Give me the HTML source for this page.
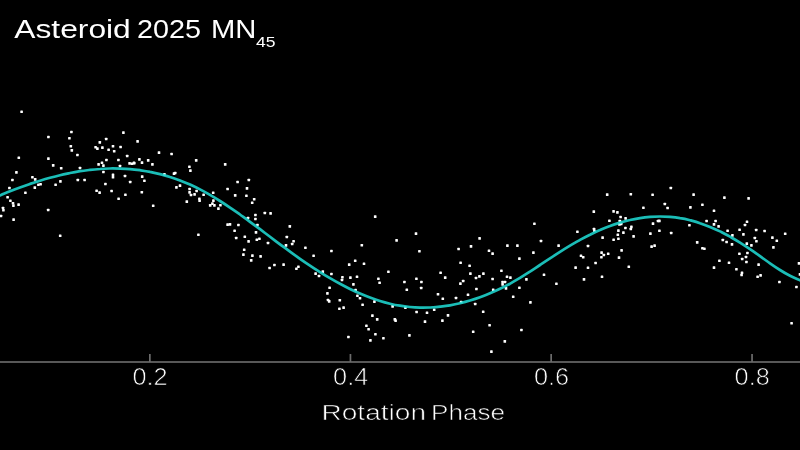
<!DOCTYPE html>
<html><head><meta charset="utf-8"><title>Asteroid 2025 MN45</title>
<style>
html,body{margin:0;padding:0;background:#000;}
body{width:800px;height:450px;overflow:hidden;font-family:"Liberation Sans",sans-serif;}
svg{display:block}
text{font-family:"Liberation Sans",sans-serif;fill:#fff}
</style></head><body>
<svg width="800" height="450" viewBox="0 0 800 450">
<rect width="800" height="450" fill="#000"/>
<text x="14.3" y="37.7" font-size="25.4" textLength="116.5" lengthAdjust="spacingAndGlyphs">Asteroid</text>
<text x="137" y="37.7" font-size="25.4" textLength="64" lengthAdjust="spacingAndGlyphs">2025</text>
<text x="211" y="37.7" font-size="25.4" textLength="45.4" lengthAdjust="spacingAndGlyphs">MN</text>
<text x="256" y="46.9" font-size="14.2" textLength="19.5" lengthAdjust="spacingAndGlyphs">45</text>
<g fill="#fff" shape-rendering="auto"><rect x="20.3" y="110.5" width="2.6" height="2.6" rx="0.5"/><rect x="47.1" y="135.7" width="2.6" height="2.6" rx="0.5"/><rect x="70.1" y="130.7" width="2.6" height="2.6" rx="0.5"/><rect x="68.1" y="136.9" width="2.6" height="2.6" rx="0.5"/><rect x="122.1" y="131.3" width="2.6" height="2.6" rx="0.5"/><rect x="104.9" y="137.7" width="2.6" height="2.6" rx="0.5"/><rect x="136.3" y="140.1" width="2.6" height="2.6" rx="0.5"/><rect x="98.5" y="141.1" width="2.6" height="2.6" rx="0.5"/><rect x="69.5" y="144.9" width="2.6" height="2.6" rx="0.5"/><rect x="94.3" y="145.9" width="2.6" height="2.6" rx="0.5"/><rect x="96.1" y="147.3" width="2.6" height="2.6" rx="0.5"/><rect x="101.1" y="146.3" width="2.6" height="2.6" rx="0.5"/><rect x="111.7" y="144.9" width="2.6" height="2.6" rx="0.5"/><rect x="119.3" y="145.7" width="2.6" height="2.6" rx="0.5"/><rect x="107.3" y="148.5" width="2.6" height="2.6" rx="0.5"/><rect x="70.5" y="149.1" width="2.6" height="2.6" rx="0.5"/><rect x="112.9" y="149.9" width="2.6" height="2.6" rx="0.5"/><rect x="157.7" y="151.3" width="2.6" height="2.6" rx="0.5"/><rect x="76.1" y="153.7" width="2.6" height="2.6" rx="0.5"/><rect x="125.9" y="154.7" width="2.6" height="2.6" rx="0.5"/><rect x="17.5" y="156.5" width="2.6" height="2.6" rx="0.5"/><rect x="47.1" y="157.3" width="2.6" height="2.6" rx="0.5"/><rect x="105.1" y="158.7" width="2.6" height="2.6" rx="0.5"/><rect x="117.1" y="158.7" width="2.6" height="2.6" rx="0.5"/><rect x="138.1" y="158.1" width="2.6" height="2.6" rx="0.5"/><rect x="146.9" y="159.1" width="2.6" height="2.6" rx="0.5"/><rect x="100.7" y="161.5" width="2.6" height="2.6" rx="0.5"/><rect x="97.3" y="163.1" width="2.6" height="2.6" rx="0.5"/><rect x="102.1" y="164.3" width="2.6" height="2.6" rx="0.5"/><rect x="118.7" y="164.7" width="2.6" height="2.6" rx="0.5"/><rect x="128.3" y="162.1" width="2.6" height="2.6" rx="0.5"/><rect x="130.7" y="162.5" width="2.6" height="2.6" rx="0.5"/><rect x="132.9" y="161.9" width="2.6" height="2.6" rx="0.5"/><rect x="140.7" y="161.3" width="2.6" height="2.6" rx="0.5"/><rect x="151.1" y="163.1" width="2.6" height="2.6" rx="0.5"/><rect x="51.9" y="164.1" width="2.6" height="2.6" rx="0.5"/><rect x="59.9" y="166.9" width="2.6" height="2.6" rx="0.5"/><rect x="78.7" y="166.7" width="2.6" height="2.6" rx="0.5"/><rect x="15.1" y="171.1" width="2.6" height="2.6" rx="0.5"/><rect x="102.1" y="170.7" width="2.6" height="2.6" rx="0.5"/><rect x="111.7" y="173.5" width="2.6" height="2.6" rx="0.5"/><rect x="111.7" y="175.9" width="2.6" height="2.6" rx="0.5"/><rect x="123.7" y="174.7" width="2.6" height="2.6" rx="0.5"/><rect x="140.9" y="175.3" width="2.6" height="2.6" rx="0.5"/><rect x="31.1" y="175.9" width="2.6" height="2.6" rx="0.5"/><rect x="33.9" y="178.1" width="2.6" height="2.6" rx="0.5"/><rect x="11.1" y="178.7" width="2.6" height="2.6" rx="0.5"/><rect x="59.1" y="180.1" width="2.6" height="2.6" rx="0.5"/><rect x="76.5" y="178.7" width="2.6" height="2.6" rx="0.5"/><rect x="83.3" y="178.7" width="2.6" height="2.6" rx="0.5"/><rect x="143.1" y="179.5" width="2.6" height="2.6" rx="0.5"/><rect x="128.9" y="180.7" width="2.6" height="2.6" rx="0.5"/><rect x="104.1" y="182.7" width="2.6" height="2.6" rx="0.5"/><rect x="54.3" y="183.5" width="2.6" height="2.6" rx="0.5"/><rect x="39.3" y="182.9" width="2.6" height="2.6" rx="0.5"/><rect x="37.1" y="183.5" width="2.6" height="2.6" rx="0.5"/><rect x="33.5" y="186.3" width="2.6" height="2.6" rx="0.5"/><rect x="8.1" y="186.7" width="2.6" height="2.6" rx="0.5"/><rect x="170.3" y="152.7" width="2.6" height="2.6" rx="0.5"/><rect x="194.9" y="159.1" width="2.6" height="2.6" rx="0.5"/><rect x="223.9" y="163.1" width="2.6" height="2.6" rx="0.5"/><rect x="188.1" y="165.5" width="2.6" height="2.6" rx="0.5"/><rect x="189.1" y="169.3" width="2.6" height="2.6" rx="0.5"/><rect x="172.7" y="172.3" width="2.6" height="2.6" rx="0.5"/><rect x="163.1" y="173.1" width="2.6" height="2.6" rx="0.5"/><rect x="247.5" y="178.7" width="2.6" height="2.6" rx="0.5"/><rect x="236.3" y="180.7" width="2.6" height="2.6" rx="0.5"/><rect x="178.7" y="184.3" width="2.6" height="2.6" rx="0.5"/><rect x="175.1" y="186.1" width="2.6" height="2.6" rx="0.5"/><rect x="188.3" y="187.7" width="2.6" height="2.6" rx="0.5"/><rect x="226.3" y="187.7" width="2.6" height="2.6" rx="0.5"/><rect x="245.7" y="187.1" width="2.6" height="2.6" rx="0.5"/><rect x="24.1" y="191.5" width="2.6" height="2.6" rx="0.5"/><rect x="6.3" y="195.9" width="2.6" height="2.6" rx="0.5"/><rect x="9.1" y="199.5" width="2.6" height="2.6" rx="0.5"/><rect x="11.7" y="201.9" width="2.6" height="2.6" rx="0.5"/><rect x="12.1" y="204.3" width="2.6" height="2.6" rx="0.5"/><rect x="17.3" y="203.3" width="2.6" height="2.6" rx="0.5"/><rect x="1.7" y="206.7" width="2.6" height="2.6" rx="0.5"/><rect x="2.1" y="208.9" width="2.6" height="2.6" rx="0.5"/><rect x="-0.3" y="214.7" width="2.6" height="2.6" rx="0.5"/><rect x="12.3" y="218.3" width="2.6" height="2.6" rx="0.5"/><rect x="46.9" y="208.7" width="2.6" height="2.6" rx="0.5"/><rect x="58.9" y="234.5" width="2.6" height="2.6" rx="0.5"/><rect x="95.3" y="189.5" width="2.6" height="2.6" rx="0.5"/><rect x="98.3" y="191.3" width="2.6" height="2.6" rx="0.5"/><rect x="110.3" y="189.7" width="2.6" height="2.6" rx="0.5"/><rect x="124.1" y="193.5" width="2.6" height="2.6" rx="0.5"/><rect x="117.3" y="197.5" width="2.6" height="2.6" rx="0.5"/><rect x="140.5" y="190.9" width="2.6" height="2.6" rx="0.5"/><rect x="151.9" y="204.5" width="2.6" height="2.6" rx="0.5"/><rect x="188.3" y="191.1" width="2.6" height="2.6" rx="0.5"/><rect x="189.7" y="193.7" width="2.6" height="2.6" rx="0.5"/><rect x="193.3" y="193.1" width="2.6" height="2.6" rx="0.5"/><rect x="195.3" y="189.7" width="2.6" height="2.6" rx="0.5"/><rect x="202.3" y="193.5" width="2.6" height="2.6" rx="0.5"/><rect x="211.9" y="191.5" width="2.6" height="2.6" rx="0.5"/><rect x="185.5" y="200.3" width="2.6" height="2.6" rx="0.5"/><rect x="198.1" y="197.5" width="2.6" height="2.6" rx="0.5"/><rect x="198.3" y="199.5" width="2.6" height="2.6" rx="0.5"/><rect x="212.1" y="199.3" width="2.6" height="2.6" rx="0.5"/><rect x="211.1" y="202.3" width="2.6" height="2.6" rx="0.5"/><rect x="208.9" y="204.1" width="2.6" height="2.6" rx="0.5"/><rect x="213.1" y="204.1" width="2.6" height="2.6" rx="0.5"/><rect x="219.1" y="203.9" width="2.6" height="2.6" rx="0.5"/><rect x="217.1" y="207.3" width="2.6" height="2.6" rx="0.5"/><rect x="233.9" y="194.1" width="2.6" height="2.6" rx="0.5"/><rect x="245.1" y="194.5" width="2.6" height="2.6" rx="0.5"/><rect x="252.9" y="197.9" width="2.6" height="2.6" rx="0.5"/><rect x="250.9" y="201.5" width="2.6" height="2.6" rx="0.5"/><rect x="263.5" y="211.7" width="2.6" height="2.6" rx="0.5"/><rect x="269.3" y="212.1" width="2.6" height="2.6" rx="0.5"/><rect x="254.1" y="213.7" width="2.6" height="2.6" rx="0.5"/><rect x="246.7" y="216.7" width="2.6" height="2.6" rx="0.5"/><rect x="254.1" y="217.7" width="2.6" height="2.6" rx="0.5"/><rect x="226.3" y="223.3" width="2.6" height="2.6" rx="0.5"/><rect x="228.7" y="223.1" width="2.6" height="2.6" rx="0.5"/><rect x="237.1" y="223.7" width="2.6" height="2.6" rx="0.5"/><rect x="256.1" y="223.7" width="2.6" height="2.6" rx="0.5"/><rect x="288.5" y="225.1" width="2.6" height="2.6" rx="0.5"/><rect x="233.3" y="229.5" width="2.6" height="2.6" rx="0.5"/><rect x="254.7" y="231.1" width="2.6" height="2.6" rx="0.5"/><rect x="197.1" y="233.5" width="2.6" height="2.6" rx="0.5"/><rect x="243.5" y="235.5" width="2.6" height="2.6" rx="0.5"/><rect x="234.9" y="236.7" width="2.6" height="2.6" rx="0.5"/><rect x="285.5" y="235.7" width="2.6" height="2.6" rx="0.5"/><rect x="258.1" y="237.5" width="2.6" height="2.6" rx="0.5"/><rect x="255.5" y="238.5" width="2.6" height="2.6" rx="0.5"/><rect x="247.3" y="240.1" width="2.6" height="2.6" rx="0.5"/><rect x="292.3" y="239.9" width="2.6" height="2.6" rx="0.5"/><rect x="266.7" y="241.7" width="2.6" height="2.6" rx="0.5"/><rect x="290.9" y="242.7" width="2.6" height="2.6" rx="0.5"/><rect x="284.7" y="244.1" width="2.6" height="2.6" rx="0.5"/><rect x="304.1" y="246.5" width="2.6" height="2.6" rx="0.5"/><rect x="242.9" y="248.5" width="2.6" height="2.6" rx="0.5"/><rect x="242.1" y="253.3" width="2.6" height="2.6" rx="0.5"/><rect x="251.1" y="254.3" width="2.6" height="2.6" rx="0.5"/><rect x="259.3" y="255.1" width="2.6" height="2.6" rx="0.5"/><rect x="312.3" y="254.5" width="2.6" height="2.6" rx="0.5"/><rect x="249.9" y="259.1" width="2.6" height="2.6" rx="0.5"/><rect x="273.1" y="263.7" width="2.6" height="2.6" rx="0.5"/><rect x="282.3" y="263.3" width="2.6" height="2.6" rx="0.5"/><rect x="268.3" y="266.7" width="2.6" height="2.6" rx="0.5"/><rect x="297.1" y="265.5" width="2.6" height="2.6" rx="0.5"/><rect x="295.1" y="267.5" width="2.6" height="2.6" rx="0.5"/><rect x="314.3" y="272.3" width="2.6" height="2.6" rx="0.5"/><rect x="317.7" y="274.7" width="2.6" height="2.6" rx="0.5"/><rect x="373.9" y="215.3" width="2.6" height="2.6" rx="0.5"/><rect x="414.7" y="232.3" width="2.6" height="2.6" rx="0.5"/><rect x="395.3" y="239.1" width="2.6" height="2.6" rx="0.5"/><rect x="360.5" y="243.9" width="2.6" height="2.6" rx="0.5"/><rect x="330.1" y="249.7" width="2.6" height="2.6" rx="0.5"/><rect x="418.1" y="249.9" width="2.6" height="2.6" rx="0.5"/><rect x="457.3" y="247.7" width="2.6" height="2.6" rx="0.5"/><rect x="469.7" y="245.1" width="2.6" height="2.6" rx="0.5"/><rect x="478.3" y="237.1" width="2.6" height="2.6" rx="0.5"/><rect x="353.9" y="259.5" width="2.6" height="2.6" rx="0.5"/><rect x="347.9" y="263.3" width="2.6" height="2.6" rx="0.5"/><rect x="362.7" y="262.5" width="2.6" height="2.6" rx="0.5"/><rect x="459.3" y="261.5" width="2.6" height="2.6" rx="0.5"/><rect x="468.3" y="264.5" width="2.6" height="2.6" rx="0.5"/><rect x="387.1" y="270.5" width="2.6" height="2.6" rx="0.5"/><rect x="439.3" y="271.5" width="2.6" height="2.6" rx="0.5"/><rect x="469.1" y="272.3" width="2.6" height="2.6" rx="0.5"/><rect x="330.1" y="272.7" width="2.6" height="2.6" rx="0.5"/><rect x="341.1" y="275.9" width="2.6" height="2.6" rx="0.5"/><rect x="349.1" y="276.3" width="2.6" height="2.6" rx="0.5"/><rect x="355.7" y="275.5" width="2.6" height="2.6" rx="0.5"/><rect x="377.1" y="277.5" width="2.6" height="2.6" rx="0.5"/><rect x="415.1" y="277.5" width="2.6" height="2.6" rx="0.5"/><rect x="443.9" y="276.3" width="2.6" height="2.6" rx="0.5"/><rect x="474.7" y="276.7" width="2.6" height="2.6" rx="0.5"/><rect x="478.1" y="275.1" width="2.6" height="2.6" rx="0.5"/><rect x="321.5" y="270.3" width="2.6" height="2.6" rx="0.5"/><rect x="605.9" y="193.3" width="2.6" height="2.6" rx="0.5"/><rect x="629.5" y="192.9" width="2.6" height="2.6" rx="0.5"/><rect x="592.5" y="210.3" width="2.6" height="2.6" rx="0.5"/><rect x="612.3" y="210.1" width="2.6" height="2.6" rx="0.5"/><rect x="616.1" y="211.1" width="2.6" height="2.6" rx="0.5"/><rect x="619.3" y="215.7" width="2.6" height="2.6" rx="0.5"/><rect x="624.3" y="217.1" width="2.6" height="2.6" rx="0.5"/><rect x="608.1" y="219.5" width="2.6" height="2.6" rx="0.5"/><rect x="618.5" y="219.7" width="2.6" height="2.6" rx="0.5"/><rect x="533.1" y="222.5" width="2.6" height="2.6" rx="0.5"/><rect x="618.1" y="223.1" width="2.6" height="2.6" rx="0.5"/><rect x="619.9" y="222.7" width="2.6" height="2.6" rx="0.5"/><rect x="592.7" y="227.7" width="2.6" height="2.6" rx="0.5"/><rect x="593.1" y="229.5" width="2.6" height="2.6" rx="0.5"/><rect x="624.1" y="226.7" width="2.6" height="2.6" rx="0.5"/><rect x="630.1" y="225.5" width="2.6" height="2.6" rx="0.5"/><rect x="629.5" y="227.7" width="2.6" height="2.6" rx="0.5"/><rect x="576.1" y="230.5" width="2.6" height="2.6" rx="0.5"/><rect x="617.1" y="229.3" width="2.6" height="2.6" rx="0.5"/><rect x="622.1" y="231.3" width="2.6" height="2.6" rx="0.5"/><rect x="616.5" y="233.5" width="2.6" height="2.6" rx="0.5"/><rect x="632.3" y="235.1" width="2.6" height="2.6" rx="0.5"/><rect x="601.3" y="236.3" width="2.6" height="2.6" rx="0.5"/><rect x="612.3" y="238.5" width="2.6" height="2.6" rx="0.5"/><rect x="617.1" y="237.5" width="2.6" height="2.6" rx="0.5"/><rect x="539.7" y="239.7" width="2.6" height="2.6" rx="0.5"/><rect x="506.1" y="244.3" width="2.6" height="2.6" rx="0.5"/><rect x="516.1" y="244.3" width="2.6" height="2.6" rx="0.5"/><rect x="557.3" y="244.3" width="2.6" height="2.6" rx="0.5"/><rect x="586.7" y="244.7" width="2.6" height="2.6" rx="0.5"/><rect x="620.3" y="249.1" width="2.6" height="2.6" rx="0.5"/><rect x="487.7" y="249.5" width="2.6" height="2.6" rx="0.5"/><rect x="491.3" y="252.3" width="2.6" height="2.6" rx="0.5"/><rect x="532.1" y="251.3" width="2.6" height="2.6" rx="0.5"/><rect x="600.3" y="251.3" width="2.6" height="2.6" rx="0.5"/><rect x="602.5" y="253.7" width="2.6" height="2.6" rx="0.5"/><rect x="606.9" y="252.5" width="2.6" height="2.6" rx="0.5"/><rect x="579.7" y="254.5" width="2.6" height="2.6" rx="0.5"/><rect x="581.9" y="255.9" width="2.6" height="2.6" rx="0.5"/><rect x="600.1" y="255.9" width="2.6" height="2.6" rx="0.5"/><rect x="617.7" y="256.3" width="2.6" height="2.6" rx="0.5"/><rect x="518.1" y="257.3" width="2.6" height="2.6" rx="0.5"/><rect x="594.3" y="261.7" width="2.6" height="2.6" rx="0.5"/><rect x="574.3" y="266.3" width="2.6" height="2.6" rx="0.5"/><rect x="586.7" y="266.5" width="2.6" height="2.6" rx="0.5"/><rect x="627.5" y="265.5" width="2.6" height="2.6" rx="0.5"/><rect x="500.1" y="269.5" width="2.6" height="2.6" rx="0.5"/><rect x="482.1" y="272.3" width="2.6" height="2.6" rx="0.5"/><rect x="542.7" y="273.5" width="2.6" height="2.6" rx="0.5"/><rect x="600.7" y="275.5" width="2.6" height="2.6" rx="0.5"/><rect x="505.7" y="275.5" width="2.6" height="2.6" rx="0.5"/><rect x="509.1" y="276.3" width="2.6" height="2.6" rx="0.5"/><rect x="491.3" y="277.7" width="2.6" height="2.6" rx="0.5"/><rect x="525.1" y="278.1" width="2.6" height="2.6" rx="0.5"/><rect x="582.7" y="278.1" width="2.6" height="2.6" rx="0.5"/><rect x="651.3" y="193.5" width="2.6" height="2.6" rx="0.5"/><rect x="692.3" y="193.3" width="2.6" height="2.6" rx="0.5"/><rect x="723.1" y="196.3" width="2.6" height="2.6" rx="0.5"/><rect x="747.3" y="197.1" width="2.6" height="2.6" rx="0.5"/><rect x="663.5" y="202.7" width="2.6" height="2.6" rx="0.5"/><rect x="701.1" y="203.5" width="2.6" height="2.6" rx="0.5"/><rect x="642.1" y="206.5" width="2.6" height="2.6" rx="0.5"/><rect x="666.3" y="206.7" width="2.6" height="2.6" rx="0.5"/><rect x="689.1" y="206.1" width="2.6" height="2.6" rx="0.5"/><rect x="712.7" y="209.5" width="2.6" height="2.6" rx="0.5"/><rect x="656.7" y="219.7" width="2.6" height="2.6" rx="0.5"/><rect x="651.7" y="222.3" width="2.6" height="2.6" rx="0.5"/><rect x="705.3" y="219.7" width="2.6" height="2.6" rx="0.5"/><rect x="714.3" y="219.7" width="2.6" height="2.6" rx="0.5"/><rect x="712.7" y="223.1" width="2.6" height="2.6" rx="0.5"/><rect x="688.1" y="223.9" width="2.6" height="2.6" rx="0.5"/><rect x="717.3" y="225.1" width="2.6" height="2.6" rx="0.5"/><rect x="745.7" y="220.5" width="2.6" height="2.6" rx="0.5"/><rect x="743.7" y="223.7" width="2.6" height="2.6" rx="0.5"/><rect x="658.1" y="229.5" width="2.6" height="2.6" rx="0.5"/><rect x="649.1" y="232.3" width="2.6" height="2.6" rx="0.5"/><rect x="669.9" y="231.7" width="2.6" height="2.6" rx="0.5"/><rect x="726.3" y="229.5" width="2.6" height="2.6" rx="0.5"/><rect x="738.3" y="228.5" width="2.6" height="2.6" rx="0.5"/><rect x="754.9" y="228.7" width="2.6" height="2.6" rx="0.5"/><rect x="763.3" y="229.7" width="2.6" height="2.6" rx="0.5"/><rect x="742.1" y="233.1" width="2.6" height="2.6" rx="0.5"/><rect x="731.1" y="234.1" width="2.6" height="2.6" rx="0.5"/><rect x="783.9" y="232.5" width="2.6" height="2.6" rx="0.5"/><rect x="753.5" y="236.7" width="2.6" height="2.6" rx="0.5"/><rect x="771.1" y="236.3" width="2.6" height="2.6" rx="0.5"/><rect x="721.5" y="238.7" width="2.6" height="2.6" rx="0.5"/><rect x="725.3" y="240.7" width="2.6" height="2.6" rx="0.5"/><rect x="695.9" y="241.1" width="2.6" height="2.6" rx="0.5"/><rect x="755.1" y="239.9" width="2.6" height="2.6" rx="0.5"/><rect x="775.5" y="239.5" width="2.6" height="2.6" rx="0.5"/><rect x="745.5" y="242.3" width="2.6" height="2.6" rx="0.5"/><rect x="730.7" y="243.1" width="2.6" height="2.6" rx="0.5"/><rect x="750.1" y="244.1" width="2.6" height="2.6" rx="0.5"/><rect x="650.3" y="245.3" width="2.6" height="2.6" rx="0.5"/><rect x="653.3" y="244.3" width="2.6" height="2.6" rx="0.5"/><rect x="772.1" y="246.1" width="2.6" height="2.6" rx="0.5"/><rect x="701.1" y="246.9" width="2.6" height="2.6" rx="0.5"/><rect x="703.1" y="247.5" width="2.6" height="2.6" rx="0.5"/><rect x="738.1" y="252.5" width="2.6" height="2.6" rx="0.5"/><rect x="746.1" y="251.7" width="2.6" height="2.6" rx="0.5"/><rect x="744.7" y="255.7" width="2.6" height="2.6" rx="0.5"/><rect x="740.9" y="257.7" width="2.6" height="2.6" rx="0.5"/><rect x="718.1" y="259.5" width="2.6" height="2.6" rx="0.5"/><rect x="745.1" y="260.7" width="2.6" height="2.6" rx="0.5"/><rect x="727.7" y="261.5" width="2.6" height="2.6" rx="0.5"/><rect x="757.3" y="263.3" width="2.6" height="2.6" rx="0.5"/><rect x="797.7" y="262.1" width="2.6" height="2.6" rx="0.5"/><rect x="712.7" y="266.3" width="2.6" height="2.6" rx="0.5"/><rect x="735.1" y="267.9" width="2.6" height="2.6" rx="0.5"/><rect x="740.7" y="271.5" width="2.6" height="2.6" rx="0.5"/><rect x="740.3" y="273.7" width="2.6" height="2.6" rx="0.5"/><rect x="759.3" y="274.1" width="2.6" height="2.6" rx="0.5"/><rect x="756.3" y="275.5" width="2.6" height="2.6" rx="0.5"/><rect x="798.7" y="273.1" width="2.6" height="2.6" rx="0.5"/><rect x="669.5" y="186.7" width="2.6" height="2.6" rx="0.5"/><rect x="340.7" y="278.7" width="2.6" height="2.6" rx="0.5"/><rect x="352.1" y="283.1" width="2.6" height="2.6" rx="0.5"/><rect x="378.3" y="281.5" width="2.6" height="2.6" rx="0.5"/><rect x="403.1" y="280.7" width="2.6" height="2.6" rx="0.5"/><rect x="420.1" y="280.7" width="2.6" height="2.6" rx="0.5"/><rect x="459.1" y="282.3" width="2.6" height="2.6" rx="0.5"/><rect x="461.9" y="279.7" width="2.6" height="2.6" rx="0.5"/><rect x="328.3" y="286.5" width="2.6" height="2.6" rx="0.5"/><rect x="354.3" y="288.7" width="2.6" height="2.6" rx="0.5"/><rect x="405.5" y="288.5" width="2.6" height="2.6" rx="0.5"/><rect x="419.9" y="286.7" width="2.6" height="2.6" rx="0.5"/><rect x="475.1" y="287.7" width="2.6" height="2.6" rx="0.5"/><rect x="326.1" y="292.1" width="2.6" height="2.6" rx="0.5"/><rect x="436.7" y="292.9" width="2.6" height="2.6" rx="0.5"/><rect x="466.7" y="293.5" width="2.6" height="2.6" rx="0.5"/><rect x="356.1" y="294.5" width="2.6" height="2.6" rx="0.5"/><rect x="358.7" y="296.9" width="2.6" height="2.6" rx="0.5"/><rect x="441.5" y="297.5" width="2.6" height="2.6" rx="0.5"/><rect x="454.7" y="296.7" width="2.6" height="2.6" rx="0.5"/><rect x="326.7" y="298.7" width="2.6" height="2.6" rx="0.5"/><rect x="327.9" y="300.1" width="2.6" height="2.6" rx="0.5"/><rect x="338.5" y="298.9" width="2.6" height="2.6" rx="0.5"/><rect x="373.1" y="300.3" width="2.6" height="2.6" rx="0.5"/><rect x="459.9" y="300.7" width="2.6" height="2.6" rx="0.5"/><rect x="473.9" y="302.7" width="2.6" height="2.6" rx="0.5"/><rect x="361.3" y="303.5" width="2.6" height="2.6" rx="0.5"/><rect x="391.3" y="305.1" width="2.6" height="2.6" rx="0.5"/><rect x="404.1" y="306.3" width="2.6" height="2.6" rx="0.5"/><rect x="338.1" y="307.5" width="2.6" height="2.6" rx="0.5"/><rect x="342.3" y="306.3" width="2.6" height="2.6" rx="0.5"/><rect x="432.9" y="308.5" width="2.6" height="2.6" rx="0.5"/><rect x="415.3" y="310.7" width="2.6" height="2.6" rx="0.5"/><rect x="425.7" y="311.5" width="2.6" height="2.6" rx="0.5"/><rect x="371.1" y="314.3" width="2.6" height="2.6" rx="0.5"/><rect x="446.7" y="314.1" width="2.6" height="2.6" rx="0.5"/><rect x="375.9" y="318.1" width="2.6" height="2.6" rx="0.5"/><rect x="393.5" y="318.1" width="2.6" height="2.6" rx="0.5"/><rect x="394.3" y="319.3" width="2.6" height="2.6" rx="0.5"/><rect x="441.1" y="319.3" width="2.6" height="2.6" rx="0.5"/><rect x="423.7" y="320.3" width="2.6" height="2.6" rx="0.5"/><rect x="365.1" y="324.5" width="2.6" height="2.6" rx="0.5"/><rect x="367.3" y="327.9" width="2.6" height="2.6" rx="0.5"/><rect x="471.9" y="330.5" width="2.6" height="2.6" rx="0.5"/><rect x="374.1" y="332.9" width="2.6" height="2.6" rx="0.5"/><rect x="408.1" y="334.1" width="2.6" height="2.6" rx="0.5"/><rect x="347.1" y="335.7" width="2.6" height="2.6" rx="0.5"/><rect x="382.1" y="336.9" width="2.6" height="2.6" rx="0.5"/><rect x="369.1" y="339.1" width="2.6" height="2.6" rx="0.5"/><rect x="501.3" y="280.7" width="2.6" height="2.6" rx="0.5"/><rect x="503.7" y="280.7" width="2.6" height="2.6" rx="0.5"/><rect x="501.3" y="283.1" width="2.6" height="2.6" rx="0.5"/><rect x="555.1" y="282.5" width="2.6" height="2.6" rx="0.5"/><rect x="518.1" y="286.5" width="2.6" height="2.6" rx="0.5"/><rect x="504.7" y="287.1" width="2.6" height="2.6" rx="0.5"/><rect x="491.9" y="288.5" width="2.6" height="2.6" rx="0.5"/><rect x="511.9" y="295.5" width="2.6" height="2.6" rx="0.5"/><rect x="529.1" y="301.1" width="2.6" height="2.6" rx="0.5"/><rect x="481.9" y="310.5" width="2.6" height="2.6" rx="0.5"/><rect x="488.3" y="323.9" width="2.6" height="2.6" rx="0.5"/><rect x="520.1" y="328.7" width="2.6" height="2.6" rx="0.5"/><rect x="503.5" y="340.1" width="2.6" height="2.6" rx="0.5"/><rect x="490.1" y="350.3" width="2.6" height="2.6" rx="0.5"/><rect x="778.1" y="280.7" width="2.6" height="2.6" rx="0.5"/><rect x="795.1" y="285.7" width="2.6" height="2.6" rx="0.5"/><rect x="790.3" y="321.9" width="2.6" height="2.6" rx="0.5"/><rect x="132.7" y="161.6" width="2.6" height="2.6" rx="0.5"/><rect x="173.9" y="171.7" width="2.6" height="2.6" rx="0.5"/><rect x="658.1" y="219.6" width="2.6" height="2.6" rx="0.5"/></g>
<path d="M-10.0 199.5 C-8.3 198.8 -3.3 196.8 0.0 195.4 C3.3 194.1 6.7 192.6 10.0 191.3 C13.3 190.0 16.7 188.7 20.0 187.5 C23.3 186.3 26.7 185.1 30.0 183.9 C33.3 182.8 36.7 181.7 40.0 180.7 C43.3 179.7 46.7 178.7 50.0 177.8 C53.3 176.9 56.7 176.0 60.0 175.2 C63.3 174.4 66.7 173.7 70.0 173.0 C73.3 172.4 76.7 171.8 80.0 171.2 C83.3 170.7 86.7 170.3 90.0 169.9 C93.3 169.5 96.7 169.2 100.0 169.0 C103.3 168.7 106.7 168.6 110.0 168.5 C113.3 168.4 116.7 168.5 120.0 168.6 C123.3 168.7 126.7 168.8 130.0 169.1 C133.3 169.4 136.7 169.8 140.0 170.2 C143.3 170.7 146.7 171.2 150.0 171.9 C153.3 172.5 156.7 173.3 160.0 174.1 C163.3 175.0 166.7 175.9 170.0 177.0 C173.3 178.0 176.7 179.2 180.0 180.4 C183.3 181.7 186.7 183.1 190.0 184.6 C193.3 186.1 196.7 187.7 200.0 189.4 C203.3 191.1 206.7 193.0 210.0 194.9 C213.3 196.8 216.7 198.9 220.0 201.0 C223.3 203.1 226.7 205.3 230.0 207.6 C233.3 209.8 236.7 212.2 240.0 214.5 C243.3 216.9 246.7 219.3 250.0 221.8 C253.3 224.2 256.7 226.7 260.0 229.2 C263.3 231.7 266.7 234.3 270.0 236.8 C273.3 239.3 276.7 241.8 280.0 244.3 C283.3 246.7 286.7 249.2 290.0 251.6 C293.3 254.1 296.7 256.5 300.0 258.8 C303.3 261.1 306.7 263.4 310.0 265.6 C313.3 267.9 316.7 270.0 320.0 272.1 C323.3 274.2 326.7 276.3 330.0 278.2 C333.3 280.2 336.7 282.1 340.0 283.8 C343.3 285.6 346.7 287.4 350.0 289.0 C353.3 290.6 356.7 292.2 360.0 293.6 C363.3 295.0 366.7 296.4 370.0 297.6 C373.3 298.8 376.7 300.0 380.0 301.0 C383.3 302.0 386.7 302.9 390.0 303.7 C393.3 304.5 396.7 305.2 400.0 305.7 C403.3 306.3 406.7 306.7 410.0 307.0 C413.3 307.3 416.7 307.5 420.0 307.6 C423.3 307.7 426.7 307.6 430.0 307.5 C433.3 307.3 436.7 307.1 440.0 306.7 C443.3 306.3 446.7 305.9 450.0 305.3 C453.3 304.7 456.7 304.0 460.0 303.2 C463.3 302.4 466.7 301.5 470.0 300.5 C473.3 299.5 476.7 298.4 480.0 297.2 C483.3 296.0 486.7 294.7 490.0 293.3 C493.3 291.9 496.7 290.4 500.0 288.8 C503.3 287.2 506.7 285.5 510.0 283.7 C513.3 281.8 516.7 279.9 520.0 277.9 C523.3 275.9 526.7 273.7 530.0 271.6 C533.3 269.4 536.7 267.2 540.0 265.0 C543.3 262.8 546.7 260.5 550.0 258.4 C553.3 256.2 556.7 254.0 560.0 251.9 C563.3 249.8 566.7 247.7 570.0 245.7 C573.3 243.7 576.7 241.8 580.0 239.9 C583.3 238.1 586.7 236.3 590.0 234.7 C593.3 233.0 596.7 231.4 600.0 230.0 C603.3 228.5 606.7 227.2 610.0 226.0 C613.3 224.7 616.7 223.6 620.0 222.6 C623.3 221.6 626.7 220.7 630.0 220.0 C633.3 219.2 636.7 218.6 640.0 218.1 C643.3 217.6 646.7 217.2 650.0 216.9 C653.3 216.7 656.7 216.5 660.0 216.5 C663.3 216.5 666.7 216.7 670.0 216.9 C673.3 217.2 676.7 217.6 680.0 218.2 C683.3 218.7 686.7 219.4 690.0 220.2 C693.3 221.1 696.7 222.0 700.0 223.2 C703.3 224.3 706.7 225.5 710.0 226.9 C713.3 228.3 716.7 229.8 720.0 231.4 C723.3 233.1 726.7 234.8 730.0 236.7 C733.3 238.6 736.7 240.5 740.0 242.6 C743.3 244.7 746.7 246.9 750.0 249.2 C753.3 251.4 756.7 253.8 760.0 256.2 C763.3 258.5 766.7 261.0 770.0 263.3 C773.3 265.6 776.7 267.9 780.0 270.0 C783.3 272.1 786.7 274.1 790.0 275.8 C793.3 277.5 796.7 278.8 800.0 280.2 C803.3 281.7 808.3 283.9 810.0 284.7" fill="none" stroke="#1fdcd5" stroke-opacity="0.86" stroke-width="2.7" stroke-linecap="round" stroke-linejoin="round"/>
<rect x="0" y="361" width="800" height="2" fill="#585858"/>
<g fill="#6c6c6c"><rect x="149" y="354" width="1.7" height="8"/><rect x="349.6" y="354" width="1.7" height="8"/><rect x="550.3" y="354" width="1.7" height="8"/><rect x="751.2" y="354" width="1.7" height="8"/></g>
<g font-size="23.6" fill="#fff" stroke="#000" stroke-width="0.7">
<text x="132.4" y="385.3" textLength="35.2" lengthAdjust="spacingAndGlyphs">0.2</text><text x="333.1" y="385.3" textLength="35.2" lengthAdjust="spacingAndGlyphs">0.4</text><text x="533.9" y="385.3" textLength="35.2" lengthAdjust="spacingAndGlyphs">0.6</text><text x="734.6" y="385.3" textLength="35.2" lengthAdjust="spacingAndGlyphs">0.8</text>
</g>
<g font-size="22.6" fill="#fff" stroke="#000" stroke-width="0.6">
<text x="321.5" y="420.3" textLength="104.5" lengthAdjust="spacingAndGlyphs">Rotation</text>
<text x="431" y="420.3" textLength="74" lengthAdjust="spacingAndGlyphs">Phase</text>
</g>
</svg>
</body></html>
